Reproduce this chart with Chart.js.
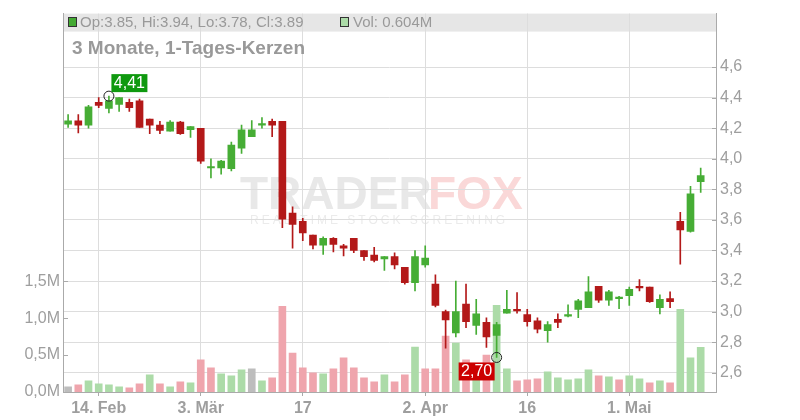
<!DOCTYPE html>
<html>
<head>
<meta charset="utf-8">
<script src="https://cdn.jsdelivr.net/npm/chart.js@4.4.1/dist/chart.umd.min.js"></script>
<style>
  html, body { margin: 0; padding: 0; background: #fff; }
</style>
</head>
<body>
<canvas id="chart" width="800" height="420"></canvas>
<script>
// trading days (2025), one candle each
const days = [
  '02-11','02-12','02-13','02-14','02-18','02-19','02-20','02-21','02-24','02-25','02-26','02-27','02-28',
  '03-03','03-04','03-05','03-06','03-07','03-10','03-11','03-12','03-13','03-14','03-17','03-18','03-19',
  '03-20','03-21','03-24','03-25','03-26','03-27','03-28','03-31',
  '04-01','04-02','04-03','04-04','04-07','04-08','04-09','04-10','04-11','04-14','04-15','04-16','04-17',
  '04-21','04-22','04-23','04-24','04-25','04-28','04-29','04-30',
  '05-01','05-02','05-05','05-06','05-07','05-08','05-09','05-12'
];
const open = [
  4.226, 4.248, 4.22, 4.37, 4.33, 4.355, 4.37, 4.38, 4.26, 4.22, 4.18, 4.24, 4.19,
  4.20, 3.94, 3.94, 3.935, 4.07, 4.145, 4.22, 4.245, 4.245, 3.645, 3.59, 3.50, 3.435,
  3.48, 3.43, 3.48, 3.40, 3.37, 3.345, 3.36, 3.29,
  3.19, 3.305, 3.18, 3.00, 2.86, 3.05, 2.91, 2.93, 2.845, 2.99, 3.015, 2.98, 2.94,
  2.875, 2.95, 2.97, 3.015, 3.025, 3.165, 3.075, 3.085,
  3.105, 3.165, 3.16, 3.025, 3.085, 3.59, 3.525, 3.85
];
const high = [
  4.29, 4.29, 4.35, 4.40, 4.41, 4.40, 4.39, 4.39, 4.26, 4.245, 4.25, 4.245, 4.21,
  4.20, 4.00, 3.99, 4.11, 4.22, 4.25, 4.27, 4.26, 4.245, 3.685, 3.61, 3.50, 3.49,
  3.485, 3.44, 3.48, 3.40, 3.42, 3.36, 3.385, 3.29,
  3.40, 3.43, 3.24, 3.01, 3.20, 3.18, 3.08, 2.96, 2.93, 3.14, 3.125, 3.015, 2.96,
  2.935, 2.985, 3.045, 3.08, 3.23, 3.165, 3.14, 3.10,
  3.16, 3.21, 3.16, 3.11, 3.13, 3.65, 3.82, 3.94
];
const low = [
  4.205, 4.17, 4.20, 4.335, 4.30, 4.31, 4.31, 4.205, 4.165, 4.165, 4.18, 4.16, 4.14,
  3.97, 3.875, 3.90, 3.92, 4.035, 4.145, 4.20, 4.145, 3.55, 3.415, 3.465, 3.41, 3.375,
  3.39, 3.365, 3.385, 3.335, 3.325, 3.27, 3.28, 3.18,
  3.135, 3.29, 3.03, 2.76, 2.835, 2.895, 2.85, 2.765, 2.70, 2.99, 2.99, 2.905, 2.86,
  2.80, 2.895, 2.965, 2.96, 3.025, 3.06, 3.04, 3.02,
  3.04, 3.135, 3.06, 2.985, 3.025, 3.31, 3.52, 3.78
];
const close = [
  4.248, 4.22, 4.34, 4.35, 4.38, 4.40, 4.335, 4.205, 4.22, 4.185, 4.24, 4.165, 4.21,
  3.985, 3.945, 3.985, 4.09, 4.19, 4.19, 4.23, 4.22, 3.605, 3.57, 3.515, 3.435, 3.48,
  3.44, 3.415, 3.40, 3.36, 3.335, 3.36, 3.305, 3.19,
  3.36, 3.35, 3.04, 2.945, 3.00, 2.935, 2.985, 2.835, 2.915, 3.015, 3.005, 2.935, 2.885,
  2.915, 2.93, 2.975, 3.07, 3.13, 3.075, 3.13, 3.09,
  3.145, 3.155, 3.065, 3.08, 3.065, 3.535, 3.77, 3.89
];
// volume in millions
const volume = [
  0.071, 0.098, 0.152, 0.112, 0.098, 0.071, 0.058, 0.112, 0.233, 0.112, 0.071, 0.139, 0.125,
  0.434, 0.327, 0.246, 0.219, 0.300, 0.313, 0.152, 0.192, 1.160, 0.528, 0.327, 0.259, 0.246,
  0.313, 0.461, 0.327, 0.192, 0.139, 0.233, 0.139, 0.233,
  0.609, 0.313, 0.313, 0.757, 0.663, 0.434, 0.300, 0.501, 1.173, 0.313, 0.152, 0.165, 0.179,
  0.273, 0.192, 0.165, 0.179, 0.300, 0.219, 0.206, 0.165,
  0.219, 0.179, 0.125, 0.152, 0.125, 1.120, 0.461, 0.604
];
const tickDays = ['02-14', '03-03', '03-17', '04-02', '04-16', '05-01'];
const tickLabels = ['14. Feb', '3. Mär', '17', '2. Apr', '16', '1. Mai'];
const priceTicks = [2.6, 2.8, 3.0, 3.2, 3.4, 3.6, 3.8, 4.0, 4.2, 4.4, 4.6];
const volTicks = [0, 0.5, 1.0, 1.5];

const labels = [...days, ''];   // one empty slot on the right
const GREEN = '#46ad35', RED = '#b31919';
const candleColors = close.map((c, i) => c >= open[i] ? GREEN : RED);
const volColors = close.map((c, i) => {
  if (i === 0 || c === close[i - 1]) return '#bdbdbd';
  return c > close[i - 1] ? '#acdba8' : '#efa5ad';
});
const comma = (v, d) => v.toFixed(d).replace('.', ',');
const FONT = '"Liberation Sans", Arial, sans-serif';

Chart.defaults.font.family = FONT;

const decor = {
  id: 'decor',
  beforeDraw(chart) {
    const { ctx, chartArea: a } = chart;
    ctx.save();
    // header band
    ctx.fillStyle = '#e6e6e6';
    ctx.fillRect(a.left, a.top, a.right - a.left, 18);
    // watermark
    ctx.font = 'bold 46px ' + FONT;
    ctx.textBaseline = 'alphabetic';
    ctx.fillStyle = '#e8e8e8';
    ctx.fillText('TRADER', 240, 209);
    ctx.fillStyle = '#fad8d8';
    ctx.fillText('FOX', 428, 209);
    ctx.font = '12px ' + FONT;
    ctx.letterSpacing = '3px';
    ctx.fillStyle = '#ebebeb';
    ctx.fillText('REAL-TIME STOCK SCREENING', 250, 224);
    ctx.restore();
  },
  beforeDatasetsDraw(chart) {
    const { ctx } = chart;
    const n = close.length - 1;
    ctx.save();
    ctx.textBaseline = 'alphabetic';
    ctx.font = '15px ' + FONT;
    ctx.fillStyle = '#44aa33';
    ctx.strokeStyle = '#333';
    ctx.lineWidth = 1;
    ctx.fillRect(68.5, 17.5, 8, 9);
    ctx.strokeRect(68.5, 17.5, 8, 9);
    ctx.fillStyle = '#999';
    ctx.fillText('Op:' + open[n].toFixed(2) + ', Hi:' + high[n].toFixed(2) + ', Lo:' +
      low[n].toFixed(2) + ', Cl:' + close[n].toFixed(2), 80, 27);
    ctx.fillStyle = '#acdba8';
    ctx.fillRect(340.5, 17.5, 8, 9);
    ctx.strokeRect(340.5, 17.5, 8, 9);
    ctx.fillStyle = '#999';
    ctx.fillText('Vol: ' + volume[n].toFixed(3) + 'M', 353, 27);
    ctx.font = 'bold 19px ' + FONT;
    ctx.fillText('3 Monate, 1-Tages-Kerzen', 72, 54);
    ctx.restore();
  },
  afterDraw(chart) {
    const { ctx, chartArea: a, scales } = chart;
    ctx.save();
    // inward tick marks
    ctx.strokeStyle = '#aaaaaa';
    ctx.lineWidth = 1;
    ctx.beginPath();
    priceTicks.forEach(v => {
      const y = Math.round(scales.y.getPixelForValue(v)) + 0.5;
      ctx.moveTo(a.right - 4, y); ctx.lineTo(a.right, y);
    });
    volTicks.forEach(v => {
      const y = Math.round(scales.yv.getPixelForValue(v)) + 0.5;
      ctx.moveTo(a.left, y); ctx.lineTo(a.left + 5, y);
    });
    ctx.stroke();
    // high / low markers
    const hiIdx = high.indexOf(Math.max(...high));
    const loIdx = low.indexOf(Math.min(...low));
    const marks = [
      { i: hiIdx, v: high[hiIdx], col: '#0f990f', dx: 2.5, dy: -22 },
      { i: loIdx, v: low[loIdx], col: '#cc0000', dx: -38, dy: 5 }
    ];
    ctx.font = '16px ' + FONT;
    ctx.textAlign = 'center';
    ctx.textBaseline = 'middle';
    marks.forEach(m => {
      const x = scales.x.getPixelForValue(m.i);
      const y = scales.y.getPixelForValue(m.v);
      ctx.beginPath();
      ctx.arc(x, y, 5, 0, Math.PI * 2);
      ctx.strokeStyle = '#222';
      ctx.stroke();
      ctx.fillStyle = m.col;
      ctx.fillRect(x + m.dx, y + m.dy, 36, 18);
      ctx.fillStyle = '#fff';
      ctx.fillText(comma(m.v, 2), x + m.dx + 18, y + m.dy + 9.5);
    });
    ctx.restore();
  }
};

new Chart(document.getElementById('chart'), {
  type: 'bar',
  data: {
    labels: labels,
    datasets: [
      {
        label: 'Body',
        data: open.map((o, i) => [o, close[i]]),
        backgroundColor: candleColors,
        barThickness: 7,
        minBarLength: 1.5,
        grouped: false,
        yAxisID: 'y',
        order: 1
      },
      {
        label: 'Wick',
        data: low.map((l, i) => [l, high[i]]),
        backgroundColor: candleColors,
        barThickness: 1,
        grouped: false,
        yAxisID: 'y',
        order: 2
      },
      {
        label: 'Vol',
        data: volume,
        backgroundColor: volColors,
        barThickness: 7,
        grouped: false,
        yAxisID: 'yv',
        order: 3
      }
    ]
  },
  options: {
    responsive: false,
    animation: false,
    layout: { padding: { top: 12, left: 0, right: 0, bottom: 0 } },
    plugins: { legend: { display: false }, tooltip: { enabled: false } },
    scales: {
      x: {
        offset: true,
        grid: { offset: false, color: '#dddddd', tickColor: '#aaaaaa', tickLength: 4 },
        border: { color: '#aaaaaa' },
        afterBuildTicks: s => { s.ticks = tickDays.map(d => ({ value: labels.indexOf(d) })); },
        ticks: {
          autoSkip: false, maxRotation: 0, padding: 3, color: '#9e9e9e',
          font: { size: 16, weight: 'bold' },
          callback: v => tickLabels[tickDays.indexOf(labels[v])]
        },
        afterFit: s => { s.height = 28; }
      },
      y: {
        position: 'right',
        min: 2.474,
        max: 4.95,
        afterBuildTicks: s => { s.ticks = priceTicks.map(v => ({ value: v })); },
        grid: { color: '#dddddd', drawTicks: false },
        border: { color: '#aaaaaa' },
        ticks: { padding: 4, color: '#9e9e9e', font: { size: 16 }, callback: v => comma(v, 1) },
        afterFit: s => { s.width = 84; }
      },
      yv: {
        position: 'left',
        min: 0,
        max: 5.12,
        afterBuildTicks: s => { s.ticks = volTicks.map(v => ({ value: v })); },
        grid: { display: false, drawTicks: false },
        border: { color: '#aaaaaa' },
        ticks: { padding: 3, color: '#9e9e9e', font: { size: 16 }, callback: v => comma(v, 1) + 'M' },
        afterFit: s => { s.width = 63; }
      }
    }
  },
  plugins: [decor]
});
</script>
</body>
</html>
